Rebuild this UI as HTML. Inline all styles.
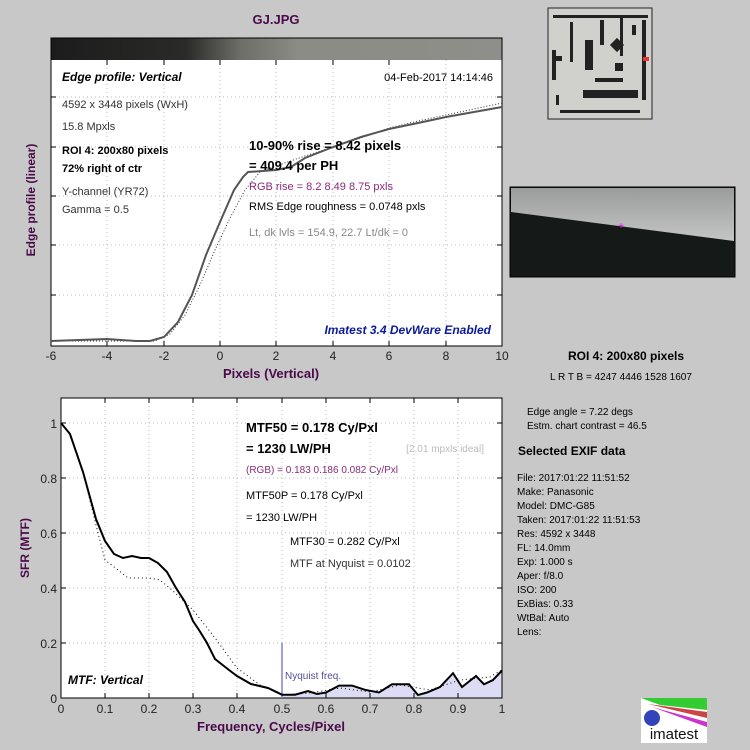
<!DOCTYPE html>
<html><head><meta charset="utf-8"><style>
html,body{margin:0;padding:0;background:#c8c8c8;}
svg{display:block;font-family:"Liberation Sans",Arial,sans-serif;}
</style></head><body>
<svg width="750" height="750" viewBox="0 0 750 750" xmlns="http://www.w3.org/2000/svg">
<defs>
<linearGradient id="gbar" x1="0" x2="1" y1="0" y2="0">
<stop offset="0" stop-color="#1c1c1c"/><stop offset="0.3" stop-color="#2a2a28"/><stop offset="0.42" stop-color="#6e6e68"/><stop offset="0.55" stop-color="#8c8c86"/><stop offset="1" stop-color="#8e8e8a"/>
</linearGradient>
<linearGradient id="edge" x1="0" y1="0" x2="0" y2="1">
<stop offset="0" stop-color="#9a9c9c"/><stop offset="1" stop-color="#c4c6c6"/>
</linearGradient>
</defs>
<rect width="750" height="750" fill="#c8c8c8"/>
<text x="276" y="24" font-size="13" fill="#4a0a4a" text-anchor="middle" font-weight="bold">GJ.JPG</text>

<!-- top plot -->
<rect x="51" y="38" width="451" height="22" fill="url(#gbar)"/>
<rect x="51" y="60" width="451" height="286" fill="#fff"/>
<g stroke="#bbb" stroke-dasharray="1,3" stroke-width="1">
<line x1="107" y1="60" x2="107" y2="346"/><line x1="164" y1="60" x2="164" y2="346"/><line x1="220" y1="60" x2="220" y2="346"/><line x1="276" y1="60" x2="276" y2="346"/><line x1="333" y1="60" x2="333" y2="346"/><line x1="389" y1="60" x2="389" y2="346"/><line x1="446" y1="60" x2="446" y2="346"/>
<line x1="51" y1="97" x2="502" y2="97"/><line x1="51" y1="147" x2="502" y2="147"/><line x1="51" y1="196" x2="502" y2="196"/><line x1="51" y1="245" x2="502" y2="245"/><line x1="51" y1="295" x2="502" y2="295"/>
</g>
<rect x="51" y="38" width="451" height="308" fill="none" stroke="#000"/>
<g stroke="#000">
<line x1="107" y1="346" x2="107" y2="341"/><line x1="164" y1="346" x2="164" y2="341"/><line x1="220" y1="346" x2="220" y2="341"/><line x1="276" y1="346" x2="276" y2="341"/><line x1="333" y1="346" x2="333" y2="341"/><line x1="389" y1="346" x2="389" y2="341"/><line x1="446" y1="346" x2="446" y2="341"/>
<line x1="107" y1="60" x2="107" y2="65"/><line x1="164" y1="60" x2="164" y2="65"/><line x1="220" y1="60" x2="220" y2="65"/><line x1="276" y1="60" x2="276" y2="65"/><line x1="333" y1="60" x2="333" y2="65"/><line x1="389" y1="60" x2="389" y2="65"/>
<line x1="51" y1="97" x2="56" y2="97"/><line x1="51" y1="147" x2="56" y2="147"/><line x1="51" y1="196" x2="56" y2="196"/><line x1="51" y1="245" x2="56" y2="245"/><line x1="51" y1="295" x2="56" y2="295"/>
<line x1="502" y1="97" x2="497" y2="97"/><line x1="502" y1="147" x2="497" y2="147"/><line x1="502" y1="196" x2="497" y2="196"/><line x1="502" y1="245" x2="497" y2="245"/><line x1="502" y1="295" x2="497" y2="295"/>
</g>
<polyline fill="none" stroke="#333" stroke-width="1" stroke-dasharray="1,2" points="51,341 155,341 170,334 185,315 200,285 215,250 230,218 245,190 260,172 276,166 305,156 333,147 361,138 389,128 418,121 446,115 474,109 502,103"/>
<polyline fill="none" stroke="#555" stroke-width="2" points="51,341 79,340 107,339 136,341 150,341 164,337 178,322 192,295 206,255 220,222 234,190 243,177 248,172 276,170 291,167 305,158 333,147 361,137 389,129 418,123 446,117 474,112 502,107"/>
<g font-size="11" fill="#000">
<text x="62" y="81" font-weight="bold" font-style="italic" font-size="12">Edge profile: Vertical</text>
<text x="493" y="81" text-anchor="end">04-Feb-2017 14:14:46</text>
<text x="62" y="108" fill="#333">4592 x 3448 pixels (WxH)</text>
<text x="62" y="130" fill="#333">15.8 Mpxls</text>
<text x="62" y="154" font-weight="bold">ROI 4:  200x80 pixels</text>
<text x="62" y="172" font-weight="bold">72% right of ctr</text>
<text x="62" y="195" fill="#333">Y-channel  (YR72)</text>
<text x="62" y="213" fill="#333">Gamma = 0.5</text>
<text x="249" y="150" font-weight="bold" font-size="13">10-90% rise = 8.42 pixels</text>
<text x="249" y="170" font-weight="bold" font-size="13">= 409.4 per PH</text>
<text x="249" y="190" fill="#8a2a7a">RGB rise = 8.2  8.49  8.75 pxls</text>
<text x="249" y="210">RMS Edge roughness = 0.0748 pxls</text>
<text x="249" y="236" fill="#888">Lt, dk lvls = 154.9, 22.7   Lt/dk = 0</text>
<text x="491" y="334" text-anchor="end" font-weight="bold" font-style="italic" fill="#0a1a9a" font-size="12">Imatest 3.4 DevWare Enabled</text>
</g>
<g font-size="12" fill="#222" text-anchor="middle">
<text x="51" y="360">-6</text><text x="107" y="360">-4</text><text x="164" y="360">-2</text><text x="220" y="360">0</text><text x="276" y="360">2</text><text x="333" y="360">4</text><text x="389" y="360">6</text><text x="446" y="360">8</text><text x="502" y="360">10</text>
</g>
<text x="271" y="378" font-size="13" font-weight="bold" fill="#4a0a4a" text-anchor="middle">Pixels (Vertical)</text>
<text transform="translate(35,200) rotate(-90)" font-size="12" font-weight="bold" fill="#4a0a4a" text-anchor="middle">Edge profile (linear)</text>

<!-- thumbnail -->
<rect x="548" y="8" width="104" height="111" fill="#d0d0cc" stroke="#222"/>
<g fill="#222">
<rect x="553" y="15" width="95" height="3"/><rect x="552" y="50" width="4" height="30"/><rect x="552" y="56" width="10" height="5"/><rect x="632" y="25" width="4" height="10"/>
<rect x="600" y="20" width="4" height="25"/><rect x="620" y="16" width="3" height="40"/><rect x="612" y="40" width="10" height="10" transform="rotate(45 617 45)"/>
<rect x="595" y="78" width="28" height="4"/><rect x="583" y="90" width="55" height="8"/><rect x="560" y="110" width="80" height="3"/>
<rect x="570" y="22" width="3" height="40"/><rect x="642" y="20" width="4" height="80"/><rect x="615" y="63" width="8" height="8"/>
<rect x="556" y="95" width="3" height="10"/><rect x="585" y="40" width="8" height="30"/>
</g>
<rect x="643" y="57" width="6" height="4" fill="#e33"/>

<!-- edge image -->
<rect x="510" y="187" width="225" height="90" fill="#151a18" stroke="#000"/>
<polygon points="511,188 734,188 734,241 511,212" fill="url(#edge)"/>
<text x="621" y="229" font-size="10" fill="#f0f" text-anchor="middle">+</text>

<!-- right text -->
<g font-size="11" fill="#000">
<text x="626" y="360" text-anchor="middle" font-weight="bold" font-size="12">ROI 4:  200x80 pixels</text>
<text x="621" y="380" text-anchor="middle" font-size="10">L R  T B = 4247 4446  1528 1607</text>
<text x="527" y="415" font-size="10">Edge angle = 7.22 degs</text>
<text x="527" y="429" font-size="10">Estm. chart contrast = 46.5</text>
<text x="518" y="455" font-weight="bold" font-size="12">Selected EXIF data</text>
<g font-size="10">
<text x="517" y="481">File:  2017:01:22 11:51:52</text>
<text x="517" y="495">Make:  Panasonic</text>
<text x="517" y="509">Model:  DMC-G85</text>
<text x="517" y="523">Taken: 2017:01:22 11:51:53</text>
<text x="517" y="537">Res:   4592 x 3448</text>
<text x="517" y="551">FL:     14.0mm</text>
<text x="517" y="565">Exp:    1.000 s</text>
<text x="517" y="579">Aper:    f/8.0</text>
<text x="517" y="593">ISO:    200</text>
<text x="517" y="607">ExBias: 0.33</text>
<text x="517" y="621">WtBal: Auto</text>
<text x="517" y="635">Lens:</text>
</g>
</g>
<!-- logo -->
<rect x="641" y="698" width="66" height="45" fill="#fff"/>
<polygon points="641,698 707,698 707,710 660,705" fill="#3c3"/>
<polygon points="648,704 707,712 707,718" fill="#c44"/>
<polygon points="652,707 707,722 707,727" fill="#c3c"/>
<circle cx="652" cy="718" r="8" fill="#3344bb"/>
<text x="674" y="739" font-size="15" text-anchor="middle" fill="#111">imatest</text>

<!-- bottom plot -->
<rect x="61" y="398" width="441" height="300" fill="#fff"/>
<polygon fill="#dcdcf4" points="282,694.7 295,694.7 308,691 317,694 326,692.5 339,685.6 352,685.6 365,689.8 379,692.5 392,684.3 409,684.3 418,695 427,692.5 440,687 453,673.2 462,687 476,676 484,684.3 493,680 502,670.5 502,698 282,698"/>
<g stroke="#bbb" stroke-dasharray="1,3" stroke-width="1">
<line x1="105" y1="398" x2="105" y2="698"/><line x1="149" y1="398" x2="149" y2="698"/><line x1="193" y1="398" x2="193" y2="698"/><line x1="237" y1="398" x2="237" y2="698"/><line x1="282" y1="398" x2="282" y2="698"/><line x1="326" y1="398" x2="326" y2="698"/><line x1="370" y1="398" x2="370" y2="698"/><line x1="414" y1="398" x2="414" y2="698"/><line x1="458" y1="398" x2="458" y2="698"/>
<line x1="61" y1="423" x2="502" y2="423"/><line x1="61" y1="478" x2="502" y2="478"/><line x1="61" y1="533" x2="502" y2="533"/><line x1="61" y1="588" x2="502" y2="588"/><line x1="61" y1="643" x2="502" y2="643"/>
</g>
<rect x="61" y="398" width="441" height="300" fill="none" stroke="#000"/>
<g stroke="#000">
<line x1="105" y1="698" x2="105" y2="693"/><line x1="149" y1="698" x2="149" y2="693"/><line x1="193" y1="698" x2="193" y2="693"/><line x1="237" y1="698" x2="237" y2="693"/><line x1="282" y1="698" x2="282" y2="693"/><line x1="326" y1="698" x2="326" y2="693"/><line x1="370" y1="698" x2="370" y2="693"/><line x1="414" y1="698" x2="414" y2="693"/><line x1="458" y1="698" x2="458" y2="693"/>
<line x1="105" y1="398" x2="105" y2="403"/><line x1="149" y1="398" x2="149" y2="403"/><line x1="193" y1="398" x2="193" y2="403"/><line x1="237" y1="398" x2="237" y2="403"/><line x1="282" y1="398" x2="282" y2="403"/><line x1="326" y1="398" x2="326" y2="403"/><line x1="370" y1="398" x2="370" y2="403"/><line x1="414" y1="398" x2="414" y2="403"/><line x1="458" y1="398" x2="458" y2="403"/>
<line x1="61" y1="423" x2="66" y2="423"/><line x1="61" y1="478" x2="66" y2="478"/><line x1="61" y1="533" x2="66" y2="533"/><line x1="61" y1="588" x2="66" y2="588"/><line x1="61" y1="643" x2="66" y2="643"/>
<line x1="502" y1="423" x2="497" y2="423"/><line x1="502" y1="478" x2="497" y2="478"/><line x1="502" y1="533" x2="497" y2="533"/><line x1="502" y1="588" x2="497" y2="588"/><line x1="502" y1="643" x2="497" y2="643"/>
</g>
<line x1="282" y1="643" x2="282" y2="698" stroke="#8080d0" stroke-width="1.5"/>
<polyline fill="none" stroke="#000" stroke-width="1" stroke-dasharray="1,3" points="61,423 70,435 83,472 96,525 105,560 118,570 128,578 149,578 160,580 172,590 193,610 215,638 237,668 260,685 282,695 310,693 340,688 370,692 400,685 430,690 460,680 490,677 502,670"/>
<polyline fill="none" stroke="#000" stroke-width="2" points="61,423 70,434 83,472 96,519 105,541 114,554 123,558 132,556 141,558 149,558 158,563 167,572 176,588 185,602 193,621 199,630 207,643 215,659 229,670 237,676 251,684 268,688 282,694.7 295,694.7 308,691 317,694 326,692.5 339,685.6 352,685.6 365,689.8 379,692.5 392,684.3 409,684.3 418,695 427,692.5 440,687 453,673.2 462,687 476,676 484,684.3 493,680 502,670.5"/>
<g font-size="12" fill="#222">
<g text-anchor="end">
<text x="57" y="428">1</text><text x="57" y="483">0.8</text><text x="57" y="538">0.6</text><text x="57" y="593">0.4</text><text x="57" y="648">0.2</text><text x="57" y="703">0</text>
</g>
<g text-anchor="middle">
<text x="61" y="713">0</text><text x="105" y="713">0.1</text><text x="149" y="713">0.2</text><text x="193" y="713">0.3</text><text x="237" y="713">0.4</text><text x="282" y="713">0.5</text><text x="326" y="713">0.6</text><text x="370" y="713">0.7</text><text x="414" y="713">0.8</text><text x="458" y="713">0.9</text><text x="502" y="713">1</text>
</g>
</g>
<text x="271" y="731" font-size="13" font-weight="bold" fill="#4a0a4a" text-anchor="middle">Frequency, Cycles/Pixel</text>
<text transform="translate(29,548) rotate(-90)" font-size="12" font-weight="bold" fill="#4a0a4a" text-anchor="middle">SFR (MTF)</text>
<g font-size="11" fill="#000">
<text x="246" y="432" font-weight="bold" font-size="13">MTF50 = 0.178 Cy/Pxl</text>
<text x="246" y="453" font-weight="bold" font-size="13">= 1230 LW/PH</text>
<text x="484" y="452" text-anchor="end" fill="#bbb" font-size="10">[2.01 mpxls ideal]</text>
<text x="246" y="473" fill="#8a2a7a" font-size="10">(RGB) = 0.183  0.186  0.082 Cy/Pxl</text>
<text x="246" y="499">MTF50P = 0.178 Cy/Pxl</text>
<text x="246" y="521">= 1230 LW/PH</text>
<text x="290" y="545">MTF30 = 0.282 Cy/Pxl</text>
<text x="290" y="567" fill="#333">MTF at Nyquist = 0.0102</text>
<text x="285" y="679" fill="#5050a0" font-size="10">Nyquist freq.</text>
<text x="68" y="684" font-weight="bold" font-style="italic" font-size="12">MTF: Vertical</text>
</g>
</svg>
</body></html>
